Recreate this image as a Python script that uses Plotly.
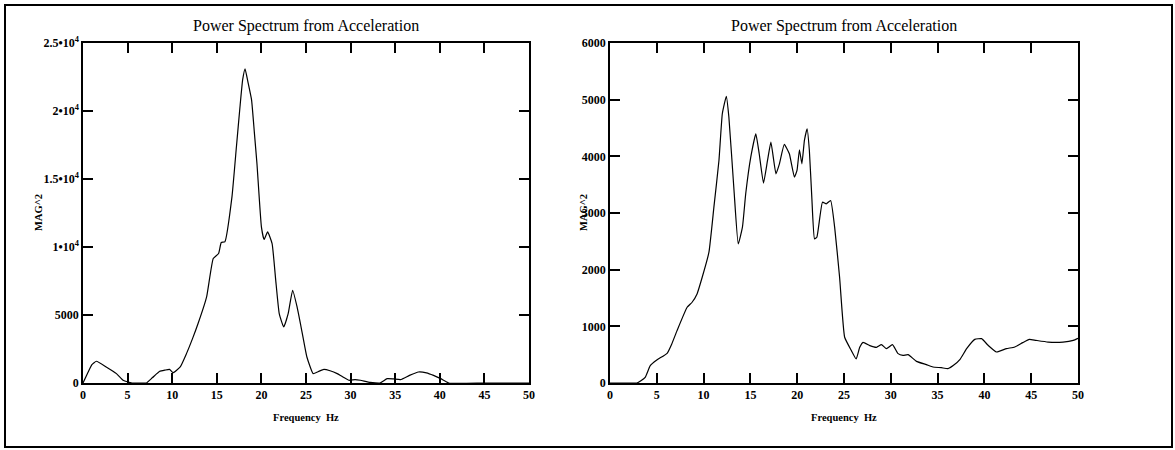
import plotly.graph_objects as go

# Left panel data (Frequency Hz, MAG^2)
freq_left = [0, 0.5, 1.0, 1.5, 2.6, 3.75, 4.5, 5.05, 5.5, 6.5, 7.1, 7.8, 8.6, 9.2, 9.7, 10.1, 10.9,
             11.6, 12.3, 12.9, 13.86, 14.6, 15.2, 15.5, 15.9, 16.7, 17.2, 17.6, 17.9, 18.17, 18.5,
             18.9, 19.2, 19.5, 20.0, 20.3, 20.7, 21.2, 21.6, 22.0, 22.5, 23.0, 23.5, 24.0, 24.6,
             25.1, 25.8, 26.4, 27.0, 27.7, 28.5, 29.2, 29.8, 30.5, 31.1, 32.2, 33.3, 34.1, 34.8,
             35.6, 36.6, 37.6, 38.5, 39.3, 40.1, 41.0, 45.0, 50.0]
mag_left = [0, 700, 1350, 1600, 1180, 690, 200, 70, 0, 0, 0, 400, 860, 950, 1000, 760, 1180,
            2160, 3300, 4370, 6330, 9150, 9520, 10330, 10380, 13690, 17370, 20310, 22300, 23100, 22100,
            20800, 18500, 16140, 11480, 10550, 11110, 10250, 7600, 5100, 4120, 5100, 6820, 5590, 3600,
            1910, 690, 850, 1000, 900, 690, 420, 200, 250, 200, 50, 0, 320, 300,
            250, 560, 810, 750, 560, 320, 0, 0, 0]

# Right panel data (Frequency Hz, MAG^2)
freq_right = [0, 1.5, 2.87, 3.3, 3.76, 4.3, 5.0, 6.1, 6.6, 7.16, 8.24, 8.77, 9.3, 9.85, 10.57, 11.1,
              11.64, 12.0, 12.43, 12.7, 13.25, 13.7, 14.15, 14.5, 15.04, 15.58, 15.94, 16.4, 16.83,
              17.19, 17.73, 18.1, 18.62, 19.16, 19.7, 19.98, 20.24, 20.5, 20.77, 21.06, 21.3, 21.56,
              21.85, 22.1, 22.7, 23.1, 23.57, 24.0, 24.53, 25.07, 25.79, 26.3, 26.68, 27.04, 27.76,
              28.47, 29.0, 29.54, 30.18, 30.78, 31.3, 31.85, 32.74, 33.8, 34.5, 35.4, 36.1, 36.7,
              37.4, 38.1, 38.97, 39.7, 40.4, 41.3, 42.35, 43.24, 44.1, 44.8, 45.5, 46.8, 48.4, 49.5, 50.0]
mag_right = [0, 0, 0, 40, 100, 306, 406, 524, 690, 924, 1337, 1425, 1572, 1866, 2308, 3103,
             3927, 4752, 5058, 4693, 3397, 2455, 2750, 3339, 3986, 4398, 4045, 3527, 3927,
             4251, 3692, 3868, 4210, 4045, 3633, 3751, 4116, 3868, 4280, 4487, 4104, 3280,
             2544, 2573, 3191, 3162, 3221, 2750, 1866, 807, 571, 424, 630, 718, 660,
             630, 676, 606, 676, 518, 488, 500, 382, 324, 282, 270, 253, 312,
             418, 606, 770, 782, 665, 547, 606, 635, 712, 770, 753, 723, 723, 753, 790]

x_ticks = [0, 5, 10, 15, 20, 25, 30, 35, 40, 45, 50]
left_yticks = [0, 5000, 10000, 15000, 20000, 25000]
left_yticktext = ["0", "5000", "1•10<sup>4</sup>", "1.5•10<sup>4</sup>", "2•10<sup>4</sup>", "2.5•10<sup>4</sup>"]
right_yticks = [0, 1000, 2000, 3000, 4000, 5000, 6000]
right_yticktext = ["0", "1000", "2000", "3000", "4000", "5000", "6000"]

title_text = "Power Spectrum from Acceleration"
xlabel = "Frequency  Hz"
ylabel = "MAG^2"

W, H = 1175, 450
serif = "Liberation Serif, Times New Roman, serif"

fig = go.Figure()
fig.add_trace(go.Scatter(x=freq_left, y=mag_left, mode="lines",
                         line=dict(color="black", width=1.2, shape="spline", smoothing=0.4),
                         xaxis="x", yaxis="y", showlegend=False, hoverinfo="skip"))
fig.add_trace(go.Scatter(x=freq_right, y=mag_right, mode="lines",
                         line=dict(color="black", width=1.2, shape="spline", smoothing=0.4),
                         xaxis="x2", yaxis="y2", showlegend=False, hoverinfo="skip"))

ydom = [(H - 383) / H, (H - 43) / H]
axis_common = dict(showline=True, linecolor="black", linewidth=1.5, mirror="ticks",
                   ticks="inside", ticklen=10, tickwidth=1.5, tickcolor="black",
                   showgrid=False, zeroline=False, automargin=False,
                   tickfont=dict(family=serif, size=12, color="black", weight="bold"))

fig.update_layout(
    width=W, height=H,
    margin=dict(l=0, r=0, t=0, b=0),
    paper_bgcolor="white", plot_bgcolor="white",
    xaxis=dict(domain=[83 / W, 529 / W], range=[0, 50], tickvals=x_ticks, anchor="y", **axis_common),
    yaxis=dict(domain=ydom, range=[0, 25000], tickvals=left_yticks, ticktext=left_yticktext,
               anchor="x", **axis_common),
    xaxis2=dict(domain=[610 / W, 1078 / W], range=[0, 50], tickvals=x_ticks, anchor="y2", **axis_common),
    yaxis2=dict(domain=ydom, range=[0, 6000], tickvals=right_yticks, ticktext=right_yticktext,
                anchor="x2", **axis_common),
)

annotations = []
for cx, ylx in [((83 + 529) / 2, 38), ((610 + 1078) / 2, 583)]:
    annotations.append(dict(text=title_text, x=cx / W, y=(H - 26) / H, xref="paper", yref="paper",
                            showarrow=False, font=dict(family=serif, size=16, color="black"),
                            xanchor="center", yanchor="middle"))
    annotations.append(dict(text=xlabel, x=cx / W, y=(H - 417) / H, xref="paper", yref="paper",
                            showarrow=False, font=dict(family=serif, size=10.5, color="black", weight="bold"),
                            xanchor="center", yanchor="middle"))
    annotations.append(dict(text=ylabel, x=ylx / W, y=(H - 213) / H, xref="paper", yref="paper",
                            showarrow=False, textangle=-90,
                            font=dict(family=serif, size=10.5, color="black", weight="bold"),
                            xanchor="center", yanchor="middle"))
fig.update_layout(annotations=annotations)

fig.add_shape(type="rect", xref="paper", yref="paper",
              x0=5 / W, x1=1172 / W, y0=(H - 447) / H, y1=(H - 5) / H,
              line=dict(color="black", width=2))

fig.write_html("out.html", config={"displayModeBar": False},
               post_script="document.body.style.margin='0';document.body.style.overflow='hidden';")
